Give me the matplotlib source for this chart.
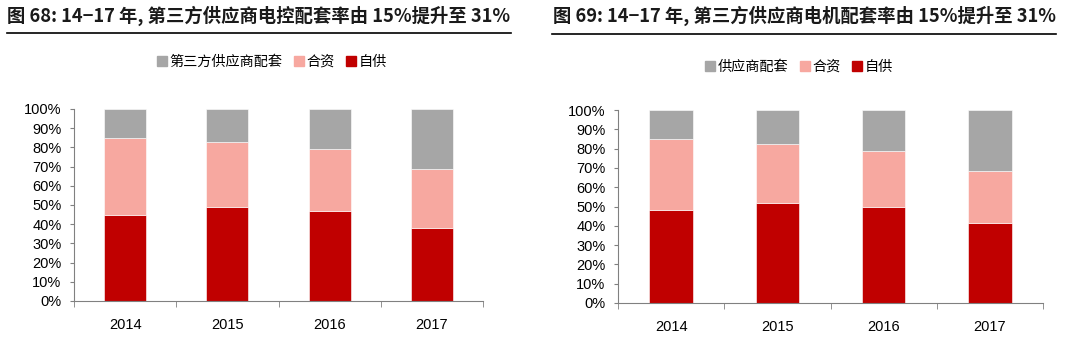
import numpy as np
import matplotlib.pyplot as plt
from matplotlib.patches import Patch

plt.rcParams['font.family'] = ['Liberation Sans', 'Noto Sans CJK SC', 'DejaVu Sans']

years = ['2014', '2015', '2016', '2017']

# 图68 电控 (%)
ctrl_self = [45, 49, 47, 38]
ctrl_jv = [40, 34, 32, 31]
ctrl_third = [15, 17, 21, 31]

# 图69 电机 (%)
motor_self = [48, 52, 49.5, 41.5]
motor_jv = [37, 30.5, 29, 27]
motor_third = [15, 17.5, 21.5, 31.5]

RED = '#C00000'
PINK = '#F7A8A0'
GRAY = '#A6A6A6'
CJK = ['Noto Sans CJK SC', 'DejaVu Sans']

fig = plt.figure(figsize=(10.8, 3.5), dpi=100)


def px(x0, y0, x1, y1):
    W, H = 1080, 350
    return [x0 / W, (H - y1) / H, (x1 - x0) / W, (y1 - y0) / H]


def draw(ax, s, j, t):
    x = np.arange(len(years))
    s = np.array(s)
    j = np.array(j)
    t = np.array(t)
    ax.bar(x, s, width=0.41, color=RED, edgecolor='white', linewidth=0.4)
    ax.bar(x, j, bottom=s, width=0.41, color=PINK, edgecolor='white', linewidth=0.4)
    ax.bar(x, t, bottom=s + j, width=0.41, color=GRAY, edgecolor='white', linewidth=0.4)
    ax.set_xlim(-0.5, len(years) - 0.5)
    ax.set_ylim(0, 100)
    ax.set_yticks(np.arange(0, 101, 10))
    ax.set_yticklabels([f'{v}%' for v in range(0, 101, 10)], fontsize=10.5)
    ax.set_xticks(x)
    ax.set_xticklabels(years, fontsize=10.5)
    ax.set_xticks(np.arange(-0.5, len(years)), minor=True)
    ax.tick_params(axis='x', which='major', length=0, pad=12)
    ax.tick_params(axis='x', which='minor', length=4, color='#808080')
    ax.tick_params(axis='y', length=3, color='#808080', pad=6)
    for k in ['top', 'right']:
        ax.spines[k].set_visible(False)
    for k in ['left', 'bottom']:
        ax.spines[k].set_color('#808080')
        ax.spines[k].set_linewidth(0.8)


ax1 = fig.add_axes(px(74, 109, 483, 301))
draw(ax1, ctrl_self, ctrl_jv, ctrl_third)
ax2 = fig.add_axes(px(618, 110, 1043, 303))
draw(ax2, motor_self, motor_jv, motor_third)

# titles and rules
fig.text(7 / 1080, 1 - 16 / 350, '图 68: 14−17 年, 第三方供应商电控配套率由 15%提升至 31%',
         fontsize=13.2, fontweight='bold', family=CJK, va='center', ha='left', color='#1a1a1a')
fig.text(553 / 1080, 1 - 16 / 350, '图 69: 14−17 年, 第三方供应商电机配套率由 15%提升至 31%',
         fontsize=13.2, fontweight='bold', family=CJK, va='center', ha='left', color='#1a1a1a')
fig.add_artist(plt.Line2D([7 / 1080, 511 / 1080], [1 - 33 / 350] * 2, color='black', lw=1.2))
fig.add_artist(plt.Line2D([552 / 1080, 1056 / 1080], [1 - 34 / 350] * 2, color='black', lw=1.2))

# legends
h1 = [Patch(color=GRAY, label='第三方供应商配套'), Patch(color=PINK, label='合资'), Patch(color=RED, label='自供')]
h2 = [Patch(color=GRAY, label='供应商配套'), Patch(color=PINK, label='合资'), Patch(color=RED, label='自供')]
for h, cx, cy in [(h1, 272, 62), (h2, 799, 67)]:
    fig.legend(handles=h, loc='center', bbox_to_anchor=(cx / 1080, 1 - cy / 350), ncol=3,
               frameon=False, prop={'family': CJK, 'size': 10.2}, handlelength=0.7,
               handleheight=0.7, handletextpad=0.2, columnspacing=0.8, borderaxespad=0)

fig.savefig('out.png', dpi=100)
